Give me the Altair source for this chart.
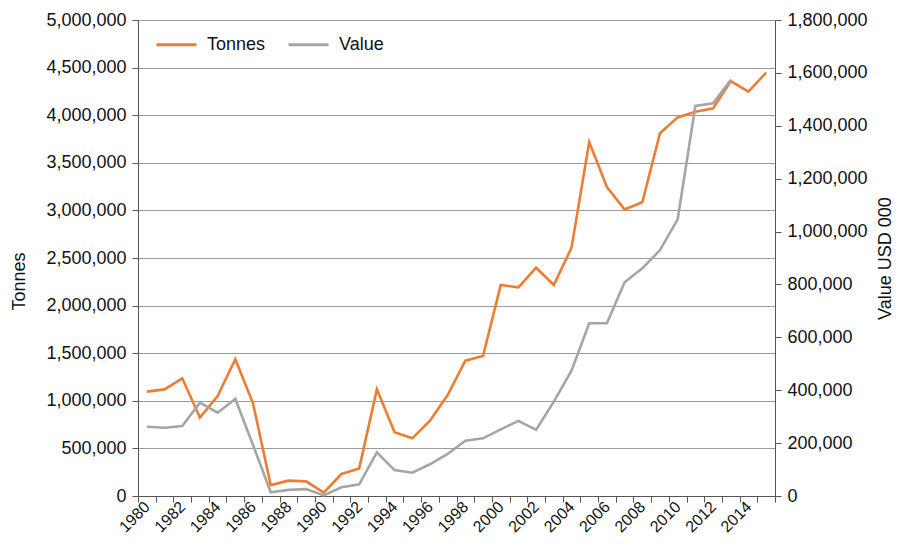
import altair as alt
import pandas as pd

years = list(range(1980, 2016))
tonnes = [1096000, 1120000, 1236000, 823000, 1050000, 1436000, 973000, 115000,
          161000, 154000, 35000, 231000, 290000, 1120000, 669000, 606000, 791000,
          1061000, 1421000, 1471000, 2216000, 2192000, 2398000, 2216000, 2608000,
          3718000, 3246000, 3011000, 3085000, 3810000, 3977000, 4037000, 4072000,
          4359000, 4247000, 4447000]
value_years = list(range(1980, 2014))
value_usd = [262000, 258000, 265000, 353000, 315000, 367000, 193000, 14000,
             23000, 26000, 2000, 33000, 44000, 165000, 98000, 88000, 120000,
             159000, 209000, 218000, 252000, 284000, 250000, 357000, 474000,
             653000, 653000, 808000, 861000, 930000, 1046000, 1475000, 1485000,
             1573000]
series_names = ["Tonnes", "Value"]

df_t = pd.DataFrame({"Year": [str(y) for y in years], "Tonnes": tonnes,
                     "Series": series_names[0]})
df_v = pd.DataFrame({"Year": [str(y) for y in value_years], "Value": value_usd,
                     "Series": series_names[1]})

FONT = "Liberation Sans"
ORANGE = "#EE7D31"
GRAY = "#A5A5A5"

x_enc = alt.X(
    "Year:O",
    scale=alt.Scale(domain=[str(y) for y in years], paddingInner=0, paddingOuter=0),
    axis=alt.Axis(
        title=None,
        labelAngle=-45,
        labelAlign="right",
        labelBaseline="middle",
        labelExpr="parseInt(datum.value) % 2 == 0 ? datum.value : ''",
        labelFontSize=16,
        labelPadding=2,
        tickBand="extent",
        tickSize=6,
        grid=False,
        domainColor="#555555",
        tickColor="#555555",
        labelColor="#111111",
        labelFont=FONT,
    ),
)

color_enc = alt.Color(
    "Series:N",
    scale=alt.Scale(domain=series_names, range=[ORANGE, GRAY]),
    legend=alt.Legend(
        title=None,
        orient="none",
        legendX=17,
        legendY=3,
        direction="horizontal",
        symbolType="stroke",
        symbolSize=1600,
        symbolStrokeWidth=3,
        labelFontSize=18,
        labelFont=FONT,
        labelColor="#111111",
        labelOffset=9,
        columnPadding=16,
    ),
)

line_t = alt.Chart(df_t).mark_line(strokeWidth=2.6).encode(
    x=x_enc,
    y=alt.Y(
        "Tonnes:Q",
        scale=alt.Scale(domain=[0, 5000000], nice=False),
        axis=alt.Axis(
            title="Tonnes",
            values=list(range(0, 5000001, 500000)),
            format=",.0f",
            labelFontSize=18,
            labelFont=FONT,
            labelColor="#111111",
            titleFont=FONT,
            titleFontSize=18,
            titleFontWeight="normal",
            titleColor="#111111",
            titleAngle=270,
            titleAlign="center",
            titleBaseline="middle",
            titleX=-119,
            titleY=261,
            tickSize=6,
            labelPadding=6,
            grid=True,
            gridColor="#9a9a9a",
            gridWidth=1,
            domainColor="#555555",
            tickColor="#555555",
        ),
    ),
    color=color_enc,
)

line_v = alt.Chart(df_v).mark_line(strokeWidth=2.6).encode(
    x=x_enc,
    y=alt.Y(
        "Value:Q",
        scale=alt.Scale(domain=[0, 1800000], nice=False),
        axis=alt.Axis(
            title="Value  USD 000",
            orient="right",
            values=list(range(0, 1800001, 200000)),
            format=",.0f",
            labelFontSize=18,
            labelFont=FONT,
            labelColor="#111111",
            titleFont=FONT,
            titleFontSize=18,
            titleFontWeight="normal",
            titleColor="#111111",
            titleAngle=270,
            titleAlign="center",
            titleBaseline="middle",
            titleX=110,
            titleY=238,
            tickSize=6,
            labelPadding=6,
            grid=False,
            domainColor="#555555",
            tickColor="#555555",
        ),
    ),
    color=color_enc,
)

chart = (
    alt.layer(line_t, line_v)
    .resolve_scale(y="independent")
    .properties(
        width=637,
        height=476,
        autosize=alt.AutoSizeParams(type="none"),
        padding={"left": 130, "top": 12, "right": 119, "bottom": 42},
        background="white",
    )
    .configure_view(stroke=None)
)

chart.save("out.html", embed_options={"renderer": "svg", "actions": False})
